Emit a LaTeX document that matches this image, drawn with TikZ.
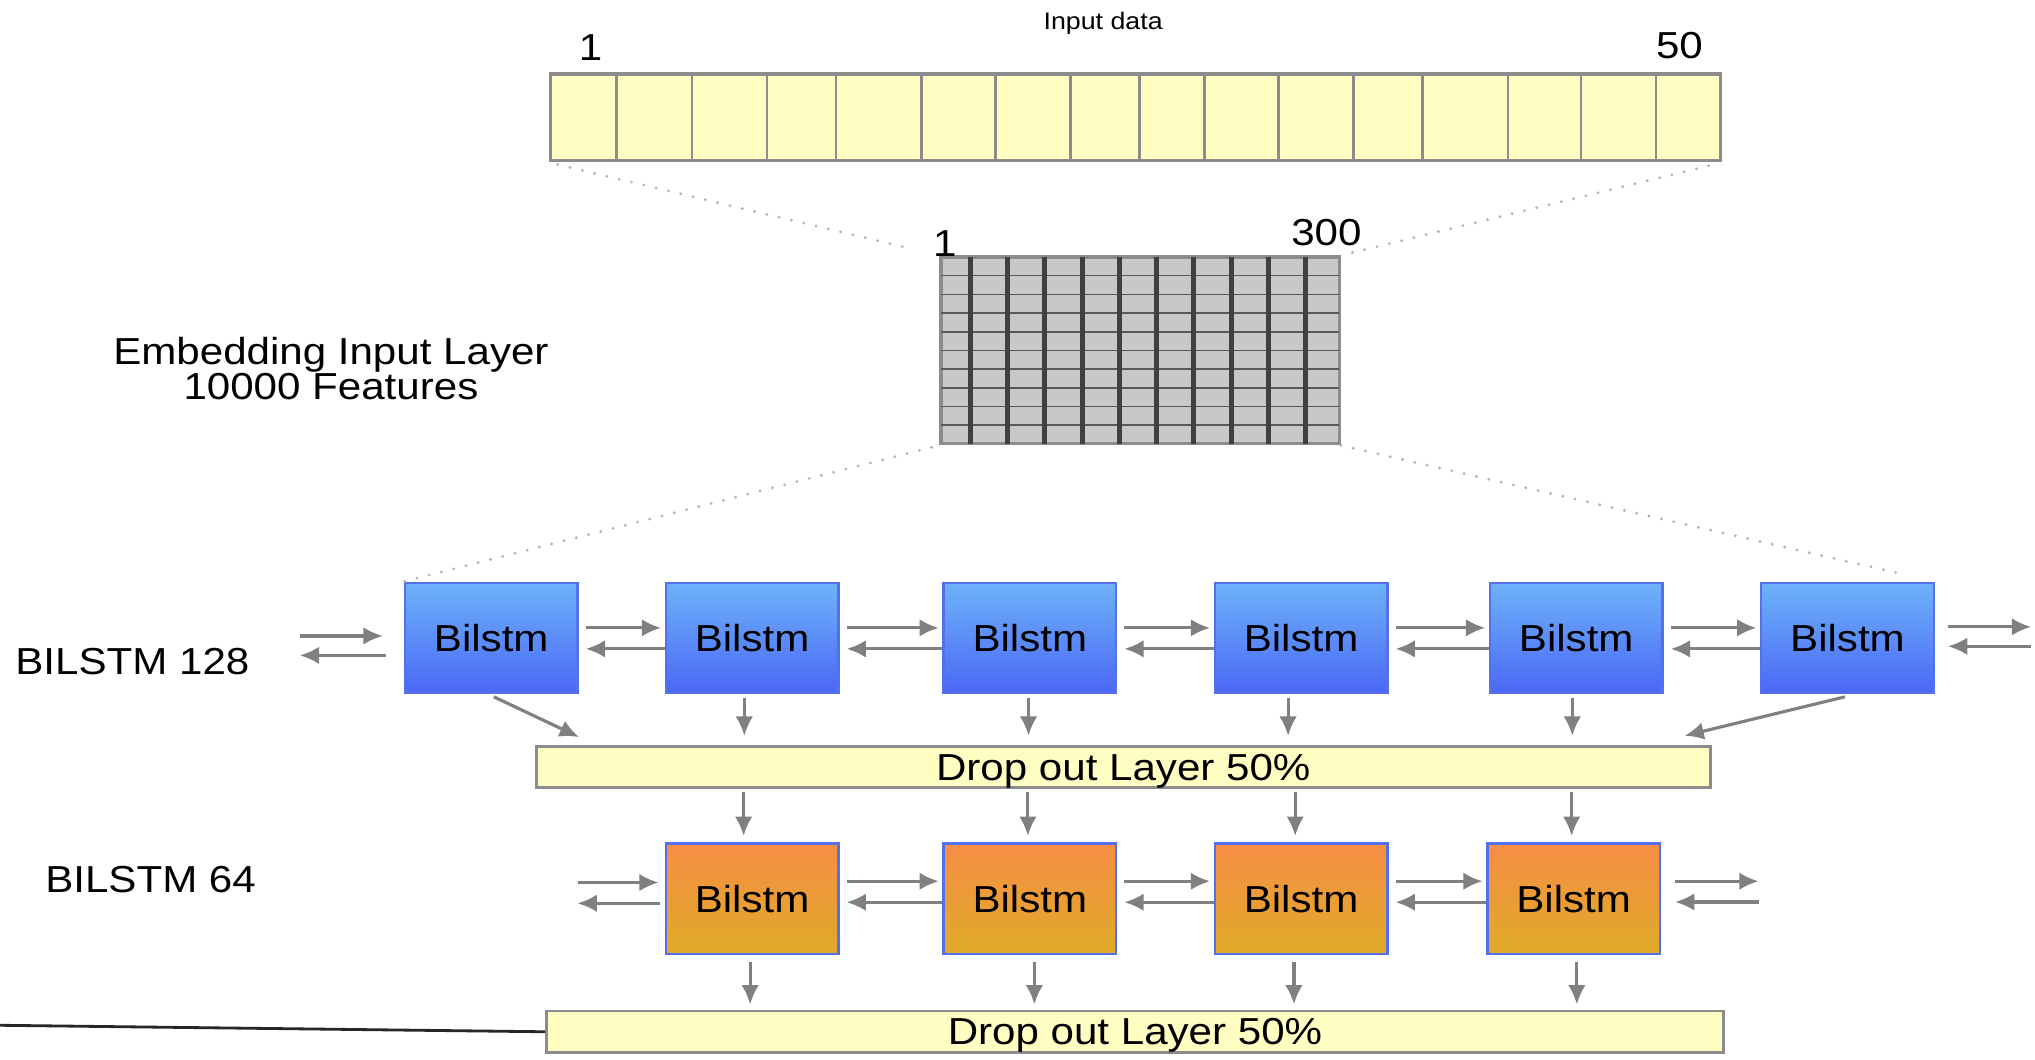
\documentclass[tikz,border=0pt]{standalone}
\usepackage{fontspec}
\setmainfont{Liberation Sans}[FakeStretch=1.12]
\usetikzlibrary{arrows.meta,positioning,calc}

\definecolor{paleyellow}{HTML}{FFFDC2}
\definecolor{edgegray}{HTML}{8C8C8C}
\definecolor{gridgray}{HTML}{C8C8C8}
\definecolor{arrowgray}{HTML}{808080}
\definecolor{lstmedge}{HTML}{5470EA}
\definecolor{blueA}{HTML}{6EB2FA}
\definecolor{blueB}{HTML}{4A68F5}
\definecolor{orangeA}{HTML}{F78E45}
\definecolor{orangeB}{HTML}{DFAA28}

\begin{document}
\begin{tikzpicture}[x=0.01298cm,y=-0.01298cm,
    txt/.style={font=\fontsize{10.7}{9.8}\selectfont, inner sep=0pt},
    lstm/.style={txt, draw=lstmedge, line width=0.7pt, minimum width=1.726cm, minimum height=1.103cm},
    lstmblue/.style={lstm, top color=blueA, bottom color=blueB},
    lstmorange/.style={lstm, top color=orangeA, bottom color=orangeB},
    dropout/.style={txt, draw=edgegray, line width=0.8pt, fill=paleyellow, minimum height=0.415cm, text depth=0pt},
    arr/.style={draw=arrowgray, line width=0.9pt, -{Latex[length=5.5pt,width=5pt]}},
    guide/.style={draw=gray!60, line width=0.9pt, line cap=round, dash pattern=on 0pt off 3.6pt}]
\useasboundingbox (0,0) rectangle (1568,816);

% input data strip
\node[font=\fontsize{6.8}{8}\selectfont, inner sep=0pt] (title) at (850,18) {Input data};
\node[draw=edgegray, line width=0.9pt, fill=paleyellow, minimum width=11.708cm, minimum height=0.870cm, inner sep=0pt] (inp) at (875,90.5) {};
\foreach \x in {475,533,591,644,710,767,825,878,928,985,1043,1096,1162,1218,1276}
    \draw[edgegray, line width=0.7pt] (\x,57) -- (\x,124);
\node[txt] (first) at (455,37) {1};
\node[txt] (last) at (1294,35) {50};

% embedding grid
\node[draw=edgegray, line width=0.9pt, fill=gridgray, minimum width=3.985cm, minimum height=1.869cm, inner sep=0pt] (emb) at (878.5,270) {};
\foreach \k in {1,...,9}
    \draw[gray!70!black, line width=0.45pt] (725,198+14.4*\k) -- (1032,198+14.4*\k);
\foreach \k in {0,...,9}
    \draw[black!75, line width=1.4pt] ({747.6+28.72*\k},198) -- ++(0,144);
\node[txt] (embfirst) at (728,188) {1};
\node[txt] (emblast) at (1022,179) {300};
\node[txt, align=center] (embl) at (255,284) {Embedding Input Layer\\10000 Features};

% dotted guides
\draw[guide, shorten <=0.09cm, shorten >=0.33cm] (inp.south west) -- (emb.north west);
\draw[guide, shorten <=0.14cm, shorten >=0.1cm] (inp.south east) -- (emb.north east);

% first bilstm layer
\node[txt] (lay1) at (102,510) {BILSTM 128};
\node[lstmblue] (b1) at (378.5,491.5) {Bilstm};
\node[lstmblue] (b2) at (579.5,491.5) {Bilstm};
\node[lstmblue] (b3) at (793.5,491.5) {Bilstm};
\node[lstmblue] (b4) at (1002.5,491.5) {Bilstm};
\node[lstmblue] (b5) at (1214.5,491.5) {Bilstm};
\node[lstmblue] (b6) at (1423.5,491.5) {Bilstm};
\draw[guide, shorten <=0.08cm] (emb.south west) -- (b1.north west);
\draw[guide, shorten >=0.3cm] (emb.south east) -- (b6.north east);

\foreach \a/\b in {b1/b2,b2/b3,b3/b4,b4/b5,b5/b6} {
    \draw[arr, shorten <=2pt, shorten >=1pt] ([yshift=0.1cm]\a.east) -- ([yshift=0.1cm]\b.west);
    \draw[arr, shorten >=2pt] ([yshift=-0.11cm]\b.west) -- ([yshift=-0.11cm]\a.east);
}
\coordinate (bin1) at (231,490);
\coordinate (bin2) at (231,505);
\draw[arr, shorten >=0.21cm] (bin1) -- (bin1 -| b1.west);
\draw[arr, shorten <=0.18cm] (bin2 -| b1.west) -- (bin2);
\coordinate (bout1) at (1565,483);
\coordinate (bout2) at (1565,498);
\draw[arr, shorten <=0.13cm] (bout1 -| b6.east) -- (bout1);
\draw[arr, shorten >=0.13cm] (bout2) -- (bout2 -| b6.east);

\node[dropout, minimum width=11.747cm] (d1) at (865.5,591) {Drop out Layer 50\%};
\draw[arr] ($(b1.south)+(2,2)$) -- ($(d1.north west)+(34,-6)$);
\foreach \n/\dx in {2/-6,3/-1,4/-10,5/-3}
    \draw[arr] ($(b\n.south)+(\dx,3)$) -- ($(b\n.south |- d1.north)+(\dx,-7)$);
\draw[arr] ($(b6.south)+(-2,2)$) -- ($(d1.north east)+(-21,-7)$);

% second bilstm layer
\node[txt] (lay2) at (116,678) {BILSTM 64};
\node[lstmorange] (o1) at (579.5,692.5) {Bilstm};
\node[lstmorange] (o2) at (793.5,692.5) {Bilstm};
\node[lstmorange] (o3) at (1002.5,692.5) {Bilstm};
\node[lstmorange] (o4) at (1212.5,692.5) {Bilstm};

\foreach \n/\dx in {1/-6.5,2/-1.5,3/-4.5,4/-1.5}
    \draw[arr] ($(o\n.north |- d1.south)+(\dx,2)$) -- ($(o\n.north)+(\dx,-5)$);

\foreach \a/\b in {o1/o2,o2/o3,o3/o4} {
    \draw[arr, shorten <=2pt, shorten >=1pt] ([yshift=0.175cm]\a.east) -- ([yshift=0.175cm]\b.west);
    \draw[arr, shorten >=2pt] ([yshift=-0.035cm]\b.west) -- ([yshift=-0.035cm]\a.east);
}
\coordinate (oin1) at (445,680);
\coordinate (oin2) at (445,696);
\draw[arr, shorten >=0.06cm] (oin1) -- (oin1 -| o1.west);
\draw[arr, shorten <=0.05cm] (oin2 -| o1.west) -- (oin2);
\coordinate (oout1) at (1355,679);
\coordinate (oout2) at (1355,695);
\draw[arr, shorten <=0.14cm] (oout1 -| o4.east) -- (oout1);
\draw[arr, shorten >=0.14cm] (oout2) -- (oout2 -| o4.east);

\node[dropout, minimum width=11.773cm] (d2) at (874.5,795) {Drop out Layer 50\%};
\foreach \n/\dx in {1/-1.5,2/3.5,3/-5.5,4/2.5}
    \draw[arr] ($(o\n.south)+(\dx,5)$) -- ($(o\n.south |- d2.north)+(\dx,-4)$);

\coordinate (outl) at (0,790);
\draw[black!85, line width=0.8pt] (outl) -- (d2.west);
\end{tikzpicture}
\end{document}
